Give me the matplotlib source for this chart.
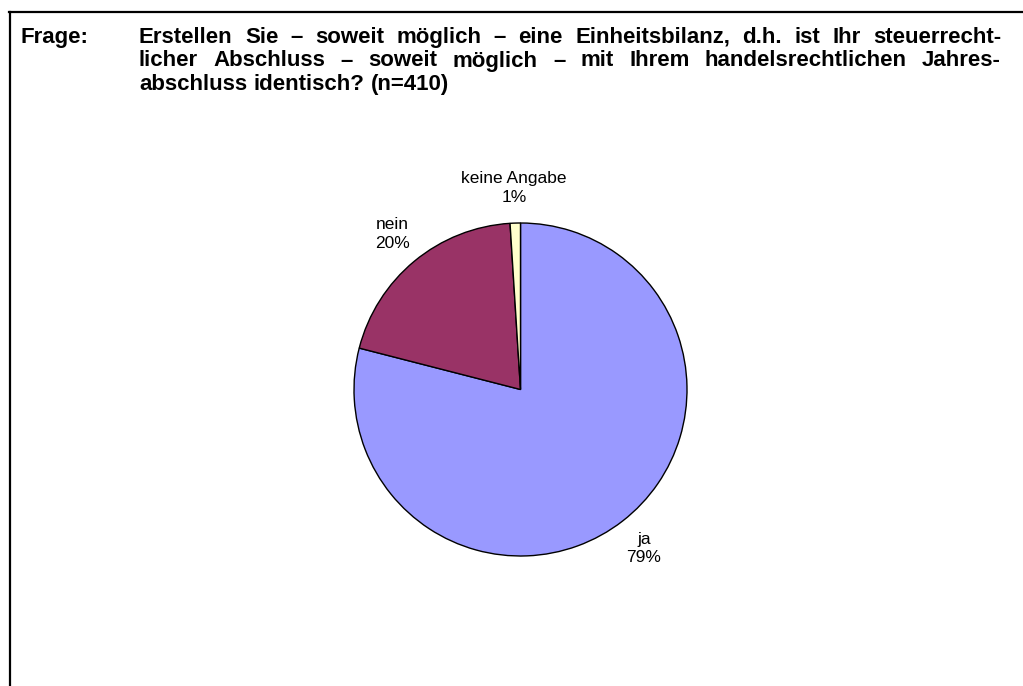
import matplotlib
matplotlib.use('Agg')
import matplotlib.pyplot as plt
from matplotlib.lines import Line2D

W, H = 1023, 686

frage = "Frage:"
titel_zeilen = [
    "Erstellen Sie – soweit möglich – eine Einheitsbilanz, d.h. ist Ihr steuerrecht-",
    "licher Abschluss – soweit möglich – mit Ihrem handelsrechtlichen Jahres-",
    "abschluss identisch? (n=410)",
]
kategorien = ["ja", "nein", "keine Angabe"]
anteile = [79, 20, 1]
farben = ["#9999FF", "#993366", "#FFFFCC"]

plt.rcParams['font.family'] = ['Liberation Sans', 'DejaVu Sans']

fig = plt.figure(figsize=(W / 100, H / 100), dpi=100)
renderer = fig.canvas.get_renderer()

# Rahmen: oben und links
fig.add_artist(Line2D([9 / W, 1], [1 - 12 / H, 1 - 12 / H], color='black', lw=1.6))
fig.add_artist(Line2D([10 / W, 10 / W], [0, 1 - 12 / H], color='black', lw=1.6))

GROESSE = 16


def zeile(text, x0, x1, y, blocksatz):
    woerter = text.split(" ")
    objs = [fig.text(x0 / W, 1 - y / H, w, fontsize=GROESSE, fontweight='bold',
                     va='baseline', ha='left') for w in woerter]
    breiten = [o.get_window_extent(renderer).width for o in objs]
    if blocksatz and len(woerter) > 1:
        luecke = (x1 - x0 - sum(breiten)) / (len(woerter) - 1)
    else:
        luecke = 0.28 * GROESSE * 100 / 72
    x = x0
    for o, b in zip(objs, breiten):
        o.set_x(x / W)
        x += b + luecke


fig.text(20 / W, 1 - 43 / H, frage, fontsize=GROESSE, fontweight='bold', va='baseline')
for i, t in enumerate(titel_zeilen):
    zeile(t, 139, 1001, 43 + i * 23.5, i < 2)

ax = fig.add_axes([354 / W, (H - 556) / H, 333 / W, 333 / H])
beschriftung = [f"{k}\n{a}%" for k, a in zip(kategorien, anteile)]
wedges, texts = ax.pie(anteile, colors=farben, startangle=90, counterclock=False,
                       labels=beschriftung, labeldistance=1.21,
                       wedgeprops=dict(edgecolor='black', linewidth=1.0),
                       textprops=dict(fontsize=12.5, linespacing=1.3))
for t in texts:
    t.set_ha('center')
    t.set_va('center')
    t.set_multialignment('center')
ax.set_xlim(-1, 1)
ax.set_ylim(-1, 1)
ax.set_aspect('equal')

fig.savefig("out.png", dpi=100)
